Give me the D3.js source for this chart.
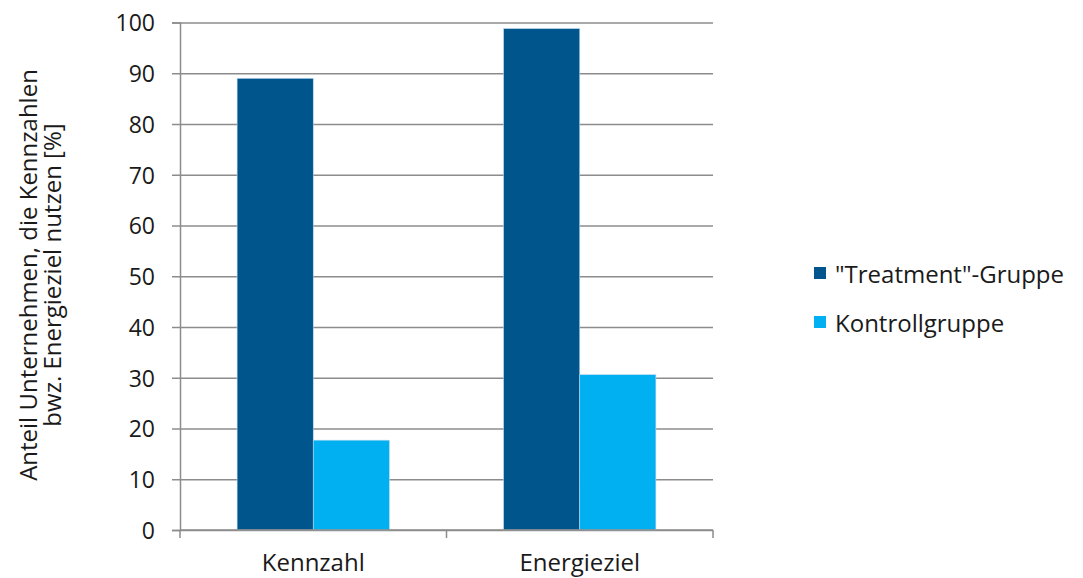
<!DOCTYPE html>
<html lang="de">
<head>
<meta charset="utf-8">
<style>
  body { margin: 0; background: #fff; }
  text { font-family: "Open Sans", "Noto Sans", sans-serif; fill: #1a1a1a; }
</style>
</head>
<body>
<svg width="1083" height="578"></svg>
<script src="https://d3js.org/d3.v7.min.js"></script>
<script>
// values
var categories = ["Kennzahl", "Energieziel"];
var seriesNames = ["\"Treatment\"-Gruppe", "Kontrollgruppe"];
var treatment = [89.0, 98.8];
var kontroll = [17.7, 30.6];
var yTicks = [0, 10, 20, 30, 40, 50, 60, 70, 80, 90, 100];
var colors = ["#00558c", "#00b0f0"];

var svg = d3.select("svg");
var plotLeft = 180, plotRight = 713, plotTop = 22.5, plotBottom = 530;

var y = d3.scaleLinear().domain([0, 100]).range([plotBottom, plotTop]);
var x0 = d3.scaleBand().domain(categories).range([plotLeft, plotRight]).padding(0);
var x1 = d3.scaleBand().domain(seriesNames).range([0, x0.bandwidth()])
    .paddingInner(0).paddingOuter(0.75);

var data = categories.map(function (c, i) {
    return { cat: c, vals: [treatment[i], kontroll[i]] };
});

// gridlines + y ticks
svg.append("g")
    .attr("transform", "translate(" + plotLeft + ",0)")
    .call(d3.axisLeft(y).tickValues(yTicks).tickSize(8).tickPadding(17))
    .call(function (g) {
        g.select(".domain").attr("stroke", "#8c8c8c").attr("stroke-width", 1.5);
        g.selectAll(".tick line").attr("stroke", "#8c8c8c").attr("stroke-width", 1.5);
        g.selectAll(".tick text").style("font-size", "23px").attr("fill", "#1a1a1a")
            .attr("dy", "0.36em");
        g.selectAll(".tick").append("line")
            .attr("x1", 0).attr("x2", plotRight - plotLeft)
            .attr("stroke", "#8c8c8c").attr("stroke-width", 1.5);
    });

// bars
var groups = svg.selectAll(".grp").data(data).enter().append("g")
    .attr("class", "grp")
    .attr("transform", function (d) { return "translate(" + x0(d.cat) + ",0)"; });

groups.selectAll("rect")
    .data(function (d) { return d.vals.map(function (v, i) { return { s: seriesNames[i], v: v, i: i }; }); })
    .enter().append("rect")
    .attr("x", function (d) { return x1(d.s); })
    .attr("width", x1.bandwidth())
    .attr("y", function (d) { return y(d.v); })
    .attr("height", function (d) { return y(0) - y(d.v); })
    .attr("fill", function (d) { return colors[d.i]; })
    .attr("stroke", "#bcd8ee")
    .attr("stroke-width", 0.6);

// x axis
var xAxis = svg.append("g").attr("transform", "translate(0," + plotBottom + ")");
xAxis.append("line").attr("x1", plotLeft).attr("x2", plotRight)
    .attr("stroke", "#8c8c8c").attr("stroke-width", 1.5);
var xt = [plotLeft].concat(categories.map(function (c) { return x0(c) + x0.bandwidth(); }));
xAxis.selectAll(".xt").data(xt).enter().append("line")
    .attr("x1", function (d) { return d; }).attr("x2", function (d) { return d; })
    .attr("y1", 0).attr("y2", 8)
    .attr("stroke", "#8c8c8c").attr("stroke-width", 1.5);
xAxis.selectAll(".xl").data(categories).enter().append("text")
    .attr("x", function (d) { return x0(d) + x0.bandwidth() / 2; })
    .attr("y", 41)
    .attr("text-anchor", "middle")
    .style("font-size", "24px")
    .text(function (d) { return d; });

// y axis title
var yt = svg.append("text")
    .attr("transform", "translate(0,275) rotate(-90)")
    .attr("text-anchor", "middle")
    .style("font-size", "24px");
yt.append("tspan").attr("x", 0).attr("y", 37).text("Anteil Unternehmen, die Kennzahlen");
yt.append("tspan").attr("x", 0).attr("y", 61).text("bwz. Energieziel nutzen [%]");

// legend
var legend = svg.selectAll(".leg").data(seriesNames).enter().append("g")
    .attr("class", "leg")
    .attr("transform", function (d, i) { return "translate(814," + (267 + i * 49) + ")"; });
legend.append("rect").attr("width", 12).attr("height", 12)
    .attr("fill", function (d, i) { return colors[i]; });
legend.append("text").attr("x", 21).attr("y", 16)
    .style("font-size", "24px")
    .text(function (d) { return d; });
</script>
</body>
</html>
